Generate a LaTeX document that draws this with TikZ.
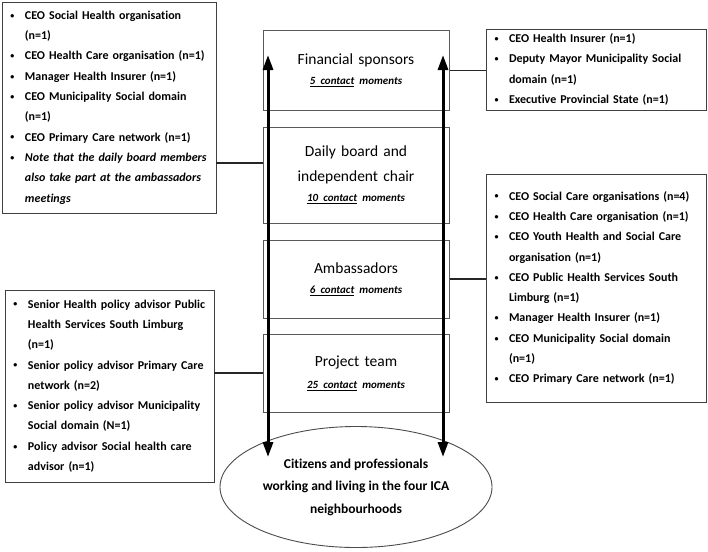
\documentclass[tikz,border=0pt]{standalone}
\usepackage{fontspec}
\setmainfont{Carlito}[Ligatures=NoCommon]
\usetikzlibrary{arrows.meta,shapes.geometric}
\tikzset{
  listbox/.style={draw=black!75, line width=0.9pt, fill=white, inner ysep=0pt, inner xsep=7pt, align=left, font=\fontsize{12}{20.3}\selectfont\bfseries},
  stagebox/.style={draw=black!65, line width=1pt, fill=white, minimum width=186pt, text width=180pt, align=center, inner sep=0pt, font=\fontsize{15.5}{25}\selectfont},
  link/.style={line width=1.3pt, draw=black!85},
  flow/.style={line width=3pt, {Triangle[width=10pt,length=15pt]}-{Triangle[width=10pt,length=15pt]}},
}
\newcommand{\bl}{\makebox[16pt][l]{\hspace{1.5pt}\raisebox{1.2pt}{\fontsize{8}{8}\selectfont\textbullet}}}
\newcommand{\ind}{\hspace*{16pt}}
\newcommand{\cm}[1]{{\fontsize{11}{13}\selectfont\bfseries\itshape\underline{#1 contact} moments}}
\begin{document}
\begin{tikzpicture}[x=1pt,y=-1pt]
\useasboundingbox (0,0) rectangle (708,551);
% side lists
\node[listbox, minimum height=211pt, text width=200pt] (lt) at (109,107.5) {%
\bl CEO Social Health organisation\\
\ind (n=1)\\
\bl CEO Health Care organisation (n=1)\\
\bl Manager Health Insurer (n=1)\\
\bl CEO Municipality Social domain\\
\ind (n=1)\\
\bl CEO Primary Care network (n=1)\\
\bl \textit{Note that the daily board members}\\
\ind \textit{also take part at the ambassadors}\\
\ind \textit{meetings}};
\node[listbox, minimum height=81pt, text width=206pt] (rt) at (596,69.5) {%
\bl CEO Health Insurer (n=1)\\
\bl Deputy Mayor Municipality Social\\
\ind domain (n=1)\\
\bl Executive Provincial State (n=1)};
\node[listbox, minimum height=228pt, text width=206pt] (rm) at (596,288) {%
\bl CEO Social Care organisations (n=4)\\
\bl CEO Health Care organisation (n=1)\\
\bl CEO Youth Health and Social Care\\
\ind organisation (n=1)\\
\bl CEO Public Health Services South\\
\ind Limburg (n=1)\\
\bl Manager Health Insurer (n=1)\\
\bl CEO Municipality Social domain\\
\ind (n=1)\\
\bl CEO Primary Care network (n=1)};
\node[listbox, minimum height=192pt, text width=195pt] (lb) at (109.5,386) {%
\bl Senior Health policy advisor Public\\
\ind Health Services South Limburg\\
\ind (n=1)\\
\bl Senior policy advisor Primary Care\\
\ind network (n=2)\\
\bl Senior policy advisor Municipality\\
\ind Social domain (N=1)\\
\bl Policy advisor Social health care\\
\ind advisor (n=1)};
% central stages
\node[stagebox, minimum height=79pt] (fs) at (356,70.5) {Financial sponsors\\[-5pt]\cm{5}};
\node[stagebox, minimum height=96pt] (db) at (356,175) {Daily board and\\independent chair\\[-5pt]\cm{10}};
\node[stagebox, minimum height=78pt] (amb) at (356,279) {Ambassadors\\[-5pt]\cm{6}};
\node[stagebox, minimum height=78pt] (pt) at (356,373) {Project team\\[-3pt]\cm{25}};
\node[draw=black!70, line width=0.9pt, fill=white, ellipse, minimum width=272pt, minimum height=121pt, inner sep=0pt, align=center, font=\fontsize{13.5}{22.5}\selectfont\bfseries] (cit) at (356,487) {Citizens and professionals\\working and living in the four ICA\\neighbourhoods};
% connectors
\coordinate (c1) at (0,163);
\draw[link] (lt.east |- c1) -- (db.west |- c1);
\draw[link] (fs.east) -- (rt.west |- fs.east);
\draw[link] (amb.east) -- (rm.west |- amb.east);
\draw[link] (pt.west) -- (lb.east |- pt.west);
% flows
\coordinate (at1) at (268,55);
\coordinate (ab1) at (268,457);
\coordinate (at2) at (443,55);
\coordinate (ab2) at (443,457);
\draw[flow] (ab1) -- (at1);
\draw[flow] (ab2) -- (at2);
\end{tikzpicture}
\end{document}
